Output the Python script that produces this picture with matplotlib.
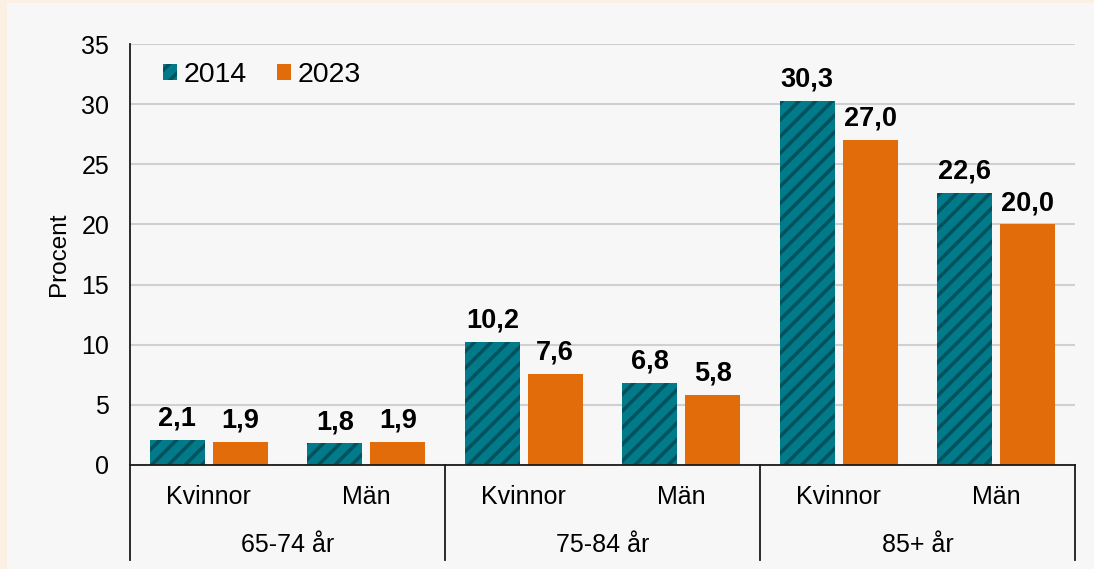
import matplotlib
matplotlib.use("Agg")
import matplotlib.pyplot as plt
from matplotlib.patches import Rectangle
from matplotlib.lines import Line2D
import numpy as np

plt.rcParams['font.family'] = ['Liberation Sans', 'DejaVu Sans']
plt.rcParams['hatch.linewidth'] = 2.5

groups = ["65-74 år", "75-84 år", "85+ år"]
sexes = ["Kvinnor", "Män"]
series_names = ["2014", "2023"]
values_2014 = [2.1, 1.8, 10.2, 6.8, 30.3, 22.6]
values_2023 = [1.9, 1.9, 7.6, 5.8, 27.0, 20.0]
yticks = [0, 5, 10, 15, 20, 25, 30, 35]

teal = "#017a8a"
teal_dark = "#02525e"
orange = "#e36c0a"

W, H = 1094, 569
fig = plt.figure(figsize=(W / 100, H / 100), dpi=100)
fig.patch.set_facecolor("#fcefe3")
fig.patches.append(Rectangle((7 / W, 0), 1, (H - 3) / H, transform=fig.transFigure,
                             facecolor="#f7f7f7", edgecolor="none", zorder=-10))

ax = fig.add_axes([130 / W, 1 - 465 / H, 945 / W, 421 / H])
ax.set_facecolor("none")

n = len(values_2014)
x = np.arange(n)
bw = 0.35
off = 0.2
b1 = ax.bar(x - off, values_2014, bw, color=teal, edgecolor=teal_dark, linewidth=0,
            hatch="//", zorder=3, label=series_names[0])
b2 = ax.bar(x + off, values_2023, bw, color=orange, linewidth=0, zorder=3,
            label=series_names[1])

def fmt(v):
    return f"{v:.1f}".replace(".", ",")

for xs, vals in ((x - off, values_2014), (x + off, values_2023)):
    for xi, v in zip(xs, vals):
        ax.annotate(fmt(v), (xi, v), xytext=(0, 6), textcoords="offset points",
                    ha="center", va="bottom", fontsize=19.5, fontweight="bold",
                    color="black", zorder=5)

ax.set_xlim(-0.5, n - 0.5)
ax.set_ylim(0, 35)
ax.set_yticks(yticks)
ax.set_yticklabels([str(t) for t in yticks], fontsize=18)
ax.tick_params(axis="y", length=0, pad=15)
ax.set_xticks([])
ax.yaxis.grid(True, color="#d0d0d0", linewidth=1.5, zorder=0)
ax.set_axisbelow(True)
for s in ("top", "right", "bottom", "left"):
    ax.spines[s].set_visible(False)

ax.set_ylabel("Procent", fontsize=17.5)
ax.yaxis.set_label_coords(-0.0635, 0.5)

trans = ax.get_xaxis_transform()
lc = "#1a1a1a"
lw = 1.3
ax.add_line(Line2D([-0.5, n - 0.5], [0, 0], transform=trans, color=lc, lw=lw,
                   clip_on=False, zorder=4))
ax.add_line(Line2D([-0.5, -0.5], [1.0, -0.2257], transform=trans, color=lc, lw=lw,
                   clip_on=False, zorder=4))
for sep in (1.5, 3.5, 5.5):
    ax.add_line(Line2D([sep, sep], [0, -0.2257], transform=trans, color=lc, lw=lw,
                       clip_on=False, zorder=4))

for i in range(n):
    ax.text(i, -0.076, sexes[i % 2], transform=trans, ha="center", va="center",
            fontsize=18)
for g, name in enumerate(groups):
    ax.text(2 * g + 0.5, -0.19, name, transform=trans, ha="center", va="center",
            fontsize=18)

leg = ax.legend(handles=[b1, b2], loc="upper left", bbox_to_anchor=(0.023, 0.985),
                ncol=2, frameon=False, fontsize=20.5, handlelength=0.48,
                handleheight=0.48, handletextpad=0.25, columnspacing=1.05,
                borderaxespad=0)

fig.savefig("out.png", dpi=100, facecolor=fig.get_facecolor())
